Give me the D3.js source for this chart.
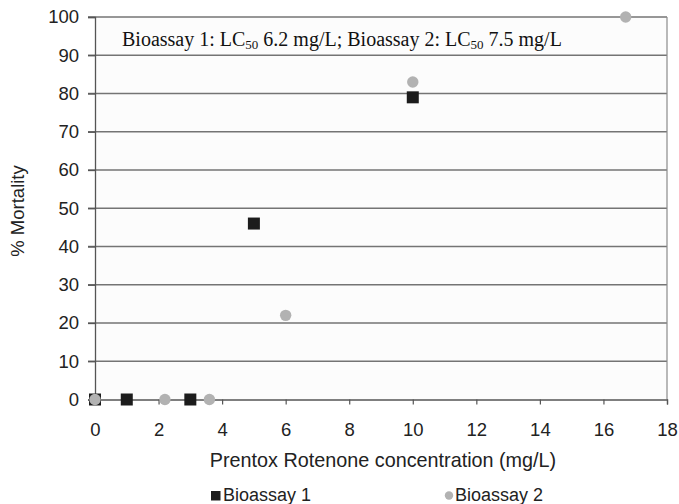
<!DOCTYPE html>
<html><head><meta charset="utf-8">
<script src="https://cdn.jsdelivr.net/npm/d3@7"></script>
<style>body{margin:0;background:#fff}svg{display:block}</style>
</head><body><svg id="c" width="679" height="504"></svg>
<script>
const bio1X = [0, 1, 3, 5, 10];
const bio1Y = [0, 0, 0, 46, 79];
const bio2X = [0, 2.2, 3.6, 6, 10, 16.7];
const bio2Y = [0, 0, 0, 22, 83, 100];
const xTicks = [0, 2, 4, 6, 8, 10, 12, 14, 16, 18];
const yTicks = [0, 10, 20, 30, 40, 50, 60, 70, 80, 90, 100];
const seriesNames = ["Bioassay 1", "Bioassay 2"];

const svg = d3.select("#c");
const L = 95, R = 667, T = 17, B = 399.5;
const x = d3.scaleLinear().domain([0, 18]).range([L, R]);
const y = d3.scaleLinear().domain([0, 100]).range([B, T]);
const font = "'Liberation Sans', Arial, sans-serif";

svg.append("rect").attr("x", L).attr("y", T).attr("width", R - L).attr("height", B - T).attr("fill", "#fcfcfc");

// gridlines
svg.append("g").selectAll("line").data(yTicks.filter(d => d > 0)).join("line")
  .attr("x1", L - 7).attr("x2", R).attr("y1", d => y(d)).attr("y2", d => y(d))
  .attr("stroke", "#747474").attr("stroke-width", 1.6);
// right border
svg.append("line").attr("x1", R).attr("x2", R).attr("y1", T).attr("y2", B).attr("stroke", "#8a8a8a").attr("stroke-width", 1.2);

// y axis
const ya = svg.append("g").attr("transform", `translate(${L},0)`)
  .call(d3.axisLeft(y).tickValues(yTicks).tickSize(7).tickPadding(9));
ya.select(".domain").attr("stroke", "#555").attr("stroke-width", 1.3);
ya.selectAll(".tick line").attr("stroke", "#555").attr("stroke-width", 1.3);
ya.selectAll("text").attr("font-family", font).attr("font-size", 18.5).attr("fill", "#222");

// x axis
const xa = svg.append("g").attr("transform", `translate(0,${B})`)
  .call(d3.axisBottom(x).tickValues(xTicks).tickSize(5).tickPadding(18.5));
xa.select(".domain").attr("stroke", "#555").attr("stroke-width", 1.3);
xa.selectAll(".tick line").attr("stroke", "#555").attr("stroke-width", 1.2);
xa.selectAll("text").attr("font-family", font).attr("font-size", 18.5).attr("fill", "#222");

// titles
svg.append("text").attr("x", 383).attr("y", 467).attr("text-anchor", "middle")
  .attr("font-family", font).attr("font-size", 19.8).attr("fill", "#222")
  .text("Prentox Rotenone concentration (mg/L)");
svg.append("text").attr("transform", `translate(24,211) rotate(-90)`).attr("text-anchor", "middle")
  .attr("font-family", font).attr("font-size", 18.5).attr("fill", "#222").text("% Mortality");

// annotation
const ann = svg.append("text").attr("x", 122).attr("y", 46)
  .attr("font-family", "'Liberation Serif', 'Times New Roman', serif").attr("font-size", 20).attr("fill", "#111");
ann.append("tspan").text("Bioassay 1: LC");
ann.append("tspan").attr("font-size", 13).attr("dy", 3).text("50");
ann.append("tspan").attr("dy", -3).text(" 6.2 mg/L; Bioassay 2: LC");
ann.append("tspan").attr("font-size", 13).attr("dy", 3).text("50");
ann.append("tspan").attr("dy", -3).text(" 7.5 mg/L");

// points
const d1 = bio1X.map((v, i) => ({x: v, y: bio1Y[i]}));
const d2 = bio2X.map((v, i) => ({x: v, y: bio2Y[i]}));
svg.append("g").selectAll("rect").data(d1).join("rect")
  .attr("x", d => x(d.x) - 6).attr("y", d => y(d.y) - 6).attr("width", 12).attr("height", 12)
  .attr("fill", "#1c1c1c");
svg.append("g").selectAll("circle").data(d2).join("circle")
  .attr("cx", d => x(d.x)).attr("cy", d => y(d.y)).attr("r", 5.7).attr("fill", "#b2b2b2");

// legend
const lg = svg.append("g");
lg.append("rect").attr("x", 211).attr("y", 491).attr("width", 9.5).attr("height", 9.5).attr("fill", "#1c1c1c");
lg.append("text").attr("x", 223).attr("y", 501).attr("font-family", font).attr("font-size", 18).attr("fill", "#222").text(seriesNames[0]);
lg.append("circle").attr("cx", 449).attr("cy", 495.5).attr("r", 4.2).attr("fill", "#b2b2b2");
lg.append("text").attr("x", 455).attr("y", 501).attr("font-family", font).attr("font-size", 18).attr("fill", "#222").text(seriesNames[1]);
</script></body></html>
